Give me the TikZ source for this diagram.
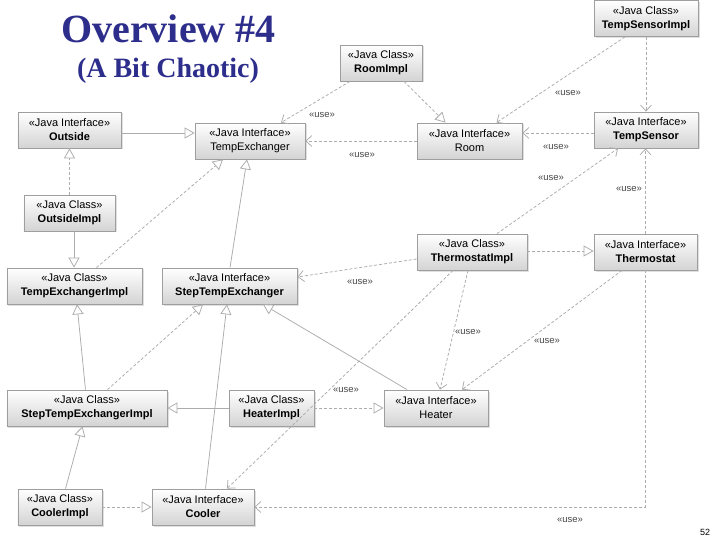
\documentclass[tikz,border=0pt]{standalone}
\usepackage{fontspec}
\setmainfont{Liberation Serif}
\setsansfont{Liberation Sans}
\usetikzlibrary{arrows.meta,shadows,calc}
\definecolor{titleblue}{RGB}{45,45,140}
\definecolor{linegray}{RGB}{172,172,172}
\definecolor{boxborder}{RGB}{158,158,158}
\definecolor{lbltext}{RGB}{70,70,70}
\begin{document}
\begin{tikzpicture}[x=1bp,y=-1bp,
  umlbox/.style={rectangle, draw=boxborder, line width=0.8bp, top color=white, bottom color=black!17,
    minimum height=36bp, inner sep=0pt, align=center,
    font=\sffamily\fontsize{11bp}{14bp}\selectfont,
    drop shadow={shadow xshift=1.5bp, shadow yshift=-1.5bp, fill=black, opacity=0.12}},
  conn/.style={draw=linegray, line width=0.75bp},
  gen/.style={conn, -{Triangle[open, fill=white, length=10bp, width=11bp]}},
  real/.style={gen, dash pattern=on 3bp off 2bp},
  use/.style={conn, dash pattern=on 3bp off 2bp, -{Straight Barb[length=6bp, width=11bp]}},
  lbl/.style={font=\sffamily\fontsize{9.5bp}{10bp}\selectfont, text=lbltext, inner sep=0pt},
  titletext/.style={text=titleblue, font=\bfseries, anchor=base, inner sep=0pt}
]
\useasboundingbox (0,0) rectangle (720,540);
\fill[white] (0,0) rectangle (720,540);

% titles
\node[titletext, font=\fontsize{40bp}{44bp}\bfseries\selectfont] (title) at (168.5,43) {Overview \#4};
\node[titletext, font=\fontsize{28bp}{32bp}\bfseries\selectfont] (subtitle) at (168,78) {(A Bit Chaotic)};

% boxes
\node[umlbox, minimum width=104bp] (TempSensorImpl) at (646,18.5) {«Java Class»\\\textbf{TempSensorImpl}};
\node[umlbox, minimum width=82bp] (RoomImpl) at (381,63) {«Java Class»\\\textbf{RoomImpl}};
\node[umlbox, minimum width=103bp] (Outside) at (69.5,130) {«Java Interface»\\\textbf{Outside}};
\node[umlbox, minimum width=110bp] (TempExchanger) at (250,141) {«Java Interface»\\TempExchanger};
\node[umlbox, minimum width=105bp] (Room) at (469.5,141) {«Java Interface»\\Room};
\node[umlbox, minimum width=104bp] (TempSensor) at (646,130) {«Java Interface»\\\textbf{TempSensor}};
\node[umlbox, minimum width=91bp] (OutsideImpl) at (69.5,213) {«Java Class»\\\textbf{OutsideImpl}};
\node[umlbox, minimum width=110bp] (ThermostatImpl) at (472,252) {«Java Class»\\\textbf{ThermostatImpl}};
\node[umlbox, minimum width=103bp] (Thermostat) at (645.5,252) {«Java Interface»\\\textbf{Thermostat}};
\node[umlbox, minimum width=135bp] (TempExchangerImpl) at (74.5,286) {«Java Class»\\\textbf{TempExchangerImpl}};
\node[umlbox, minimum width=135bp] (StepTempExchanger) at (229.5,286) {«Java Interface»\\\textbf{StepTempExchanger}};
\node[umlbox, minimum width=160bp] (StepTempExchangerImpl) at (87,408) {«Java Class»\\\textbf{StepTempExchangerImpl}};
\node[umlbox, minimum width=85bp] (HeaterImpl) at (271.5,408) {«Java Class»\\\textbf{HeaterImpl}};
\node[umlbox, minimum width=104bp] (Heater) at (436,408) {«Java Interface»\\Heater};
\node[umlbox, minimum width=84bp] (CoolerImpl) at (60,507) {«Java Class»\\\textbf{CoolerImpl}};
\node[umlbox, minimum width=102bp] (Cooler) at (203,507) {«Java Interface»\\\textbf{Cooler}};

% connectors
\draw[gen] ([yshift=-3bp]Outside.east) -- ([yshift=-3bp]Outside.east -| TempExchanger.west);
\draw[real] (OutsideImpl.north) -- (OutsideImpl.north |- Outside.south);
\draw[gen] ([xshift=4.5bp]OutsideImpl.south) -- ([xshift=4.5bp]OutsideImpl.south |- TempExchangerImpl.north);
\draw[real] ([xshift=22bp]TempExchangerImpl.north) -- ([xshift=-27bp]TempExchanger.south);
\draw[gen] ([xshift=0.5bp]StepTempExchanger.north) -- ([xshift=-3bp]TempExchanger.south);
\draw[use] ([xshift=-31bp]RoomImpl.south) -- ([xshift=31bp]TempExchanger.north);
\draw[real] ([xshift=23bp]RoomImpl.south) -- ([xshift=-24bp]Room.north);
\draw[use] (Room.west) -- (Room.west -| TempExchanger.east);
\draw[use] ([xshift=-21bp]TempSensorImpl.south) -- ([xshift=27bp]Room.north);
\draw[use] (TempSensorImpl.south) -- (TempSensor.north);
\draw[use] ([yshift=-3bp]TempSensor.west) -- ([yshift=-3bp]TempSensor.west -| Room.east);
\draw[use] ([xshift=25bp]ThermostatImpl.north) -- ([xshift=-28bp]TempSensor.south);
\draw[use] (Thermostat.north) -- (Thermostat.north |- TempSensor.south);
\draw[use] (Thermostat.south) |- (Cooler.east);
\draw[real] ([yshift=1bp]ThermostatImpl.east) -- ([yshift=1bp]ThermostatImpl.east -| Thermostat.west);
\draw[use] ([yshift=-7bp]ThermostatImpl.west) -- ([yshift=9bp]StepTempExchanger.east);
\draw[use] ([xshift=-4bp]ThermostatImpl.south) -- ([xshift=4bp]Heater.north);
\draw[use] ([xshift=-19bp]ThermostatImpl.south) -- ([xshift=24bp]Cooler.north);
\draw[use] ([xshift=-23.5bp]Thermostat.south) -- ([xshift=26bp]Heater.north);
\draw[gen] ([xshift=-29bp]Heater.north) -- ([xshift=33.5bp]StepTempExchanger.south);
\draw[real] (HeaterImpl.east) -- (HeaterImpl.east -| Heater.west);
\draw[gen] (HeaterImpl.west) -- (HeaterImpl.west -| StepTempExchangerImpl.east);
\draw[gen] ([xshift=-1.5bp]StepTempExchangerImpl.north) -- ([xshift=2.5bp]TempExchangerImpl.south);
\draw[real] ([xshift=20.5bp]StepTempExchangerImpl.north) -- ([xshift=-26.5bp]StepTempExchanger.south);
\draw[gen] ([xshift=2.5bp]Cooler.north) -- ([xshift=-2.5bp]StepTempExchanger.south);
\draw[gen] ([xshift=5.5bp]CoolerImpl.north) -- ([xshift=-4.5bp]StepTempExchangerImpl.south);
\draw[real] (CoolerImpl.east) -- (CoolerImpl.east -| Cooler.west);

% «use» labels
\node[lbl] (u1) at (322,115) {«use»};
\node[lbl] (u2) at (362,155) {«use»};
\node[lbl] (u3) at (568,93) {«use»};
\node[lbl] (u4) at (556,147) {«use»};
\node[lbl] (u5) at (551,178) {«use»};
\node[lbl] (u6) at (629,189) {«use»};
\node[lbl] (u7) at (360,282) {«use»};
\node[lbl] (u8) at (468,332) {«use»};
\node[lbl] (u9) at (547,341) {«use»};
\node[lbl] (u10) at (346,390) {«use»};
\node[lbl] (u11) at (570,520) {«use»};

% page number
\node[font=\sffamily\fontsize{9bp}{10bp}\selectfont, inner sep=0pt] (pagenum) at (705,532) {52};
\end{tikzpicture}
\end{document}
